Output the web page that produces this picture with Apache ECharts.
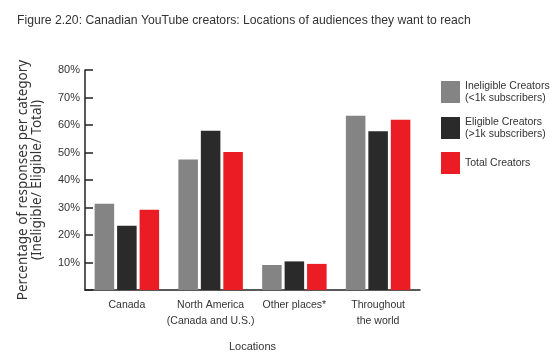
<!DOCTYPE html>
<html lang="en">
<head>
    <meta charset="utf-8">
    <title>Figure 2.20</title>
    <script src="https://cdn.jsdelivr.net/npm/echarts@6/dist/echarts.min.js"></script>
    <style>
        html, body { margin: 0; padding: 0; background: #fff; }
        #chart { width: 559px; height: 354px; }
    </style>
</head>
<body>
    <div id="chart"></div>
    <script>
        // categories along the x axis
        var locations = ['Canada', 'North America\n(Canada and U.S.)', 'Other places*', 'Throughout\nthe world'];

        // series names and legend sub labels
        var seriesNames = ['Ineligible Creators', 'Eligible Creators', 'Total Creators'];
        var seriesNotes = ['(<1k subscribers)', '(>1k subscribers)', ''];

        // values, percent
        var ineligible = [31.4, 47.5, 9.1, 63.4];
        var eligible = [23.4, 57.9, 10.4, 57.7];
        var total = [29.2, 50.2, 9.5, 61.9];

        var yTicks = [10, 20, 30, 40, 50, 60, 70, 80];

        var colors = ['#848484', '#2a2a2a', '#ec1c24'];
        var font = '"Liberation Sans", Arial, sans-serif';

        var chart = echarts.init(document.getElementById('chart'));

        function bar(name, data, color) {
            return {
                name: name,
                type: 'bar',
                data: data,
                barCategoryGap: '23%',
                barGap: '15%',
                itemStyle: { color: color }
            };
        }

        var option = {
            animation: false,
            color: colors,
            title: {
                text: 'Figure 2.20: Canadian YouTube creators: Locations of audiences they want to reach',
                left: 12,
                top: 10,
                textStyle: { fontFamily: font, fontSize: 12.2, fontWeight: 'normal', color: '#333' }
            },
            legend: {
                orient: 'vertical',
                left: 436,
                top: 75,
                itemWidth: 19,
                itemHeight: 22,
                itemGap: 12,
                icon: 'rect',
                data: seriesNames,
                formatter: function (name) {
                    var note = seriesNotes[seriesNames.indexOf(name)];
                    return note ? name + '\n' + note : name;
                },
                textStyle: { fontFamily: font, fontSize: 10.5, lineHeight: 12, color: '#333' }
            },
            grid: { left: 85, right: 139, top: 70, bottom: 64, outerBoundsMode: 'none' },
            xAxis: {
                type: 'category',
                data: locations,
                name: 'Locations',
                nameLocation: 'middle',
                nameGap: 51,
                nameTextStyle: { fontFamily: font, fontSize: 11, color: '#333' },
                axisLine: { lineStyle: { color: '#222', width: 1.5 } },
                axisTick: { inside: true, length: 5, lineStyle: { color: '#222', width: 1.5 } },
                axisLabel: { interval: 0, fontFamily: font, fontSize: 10.5, lineHeight: 16, color: '#333', margin: 7 }
            },
            yAxis: {
                type: 'value',
                min: 0,
                max: 80,
                interval: 10,
                name: 'Percentage of responses per category\n(Ineligible/ Eligible/ Total)',
                nameLocation: 'middle',
                nameGap: 41,
                nameTextStyle: { fontFamily: '"Noto Sans", sans-serif', fontSize: 13.5, lineHeight: 14, color: '#333' },
                splitLine: { show: false },
                axisLine: { show: true, lineStyle: { color: '#222', width: 1.5 } },
                axisTick: { show: true, inside: true, length: 8, lineStyle: { color: '#222', width: 1.5 } },
                axisLabel: {
                    fontFamily: font,
                    fontSize: 11,
                    color: '#333',
                    margin: 5,
                    formatter: function (v) {
                        return yTicks.indexOf(v) >= 0 ? v + '%' : '';
                    }
                }
            },
            series: [
                bar(seriesNames[0], ineligible, colors[0]),
                bar(seriesNames[1], eligible, colors[1]),
                bar(seriesNames[2], total, colors[2])
            ]
        };

        chart.setOption(option);
    </script>
</body>
</html>
